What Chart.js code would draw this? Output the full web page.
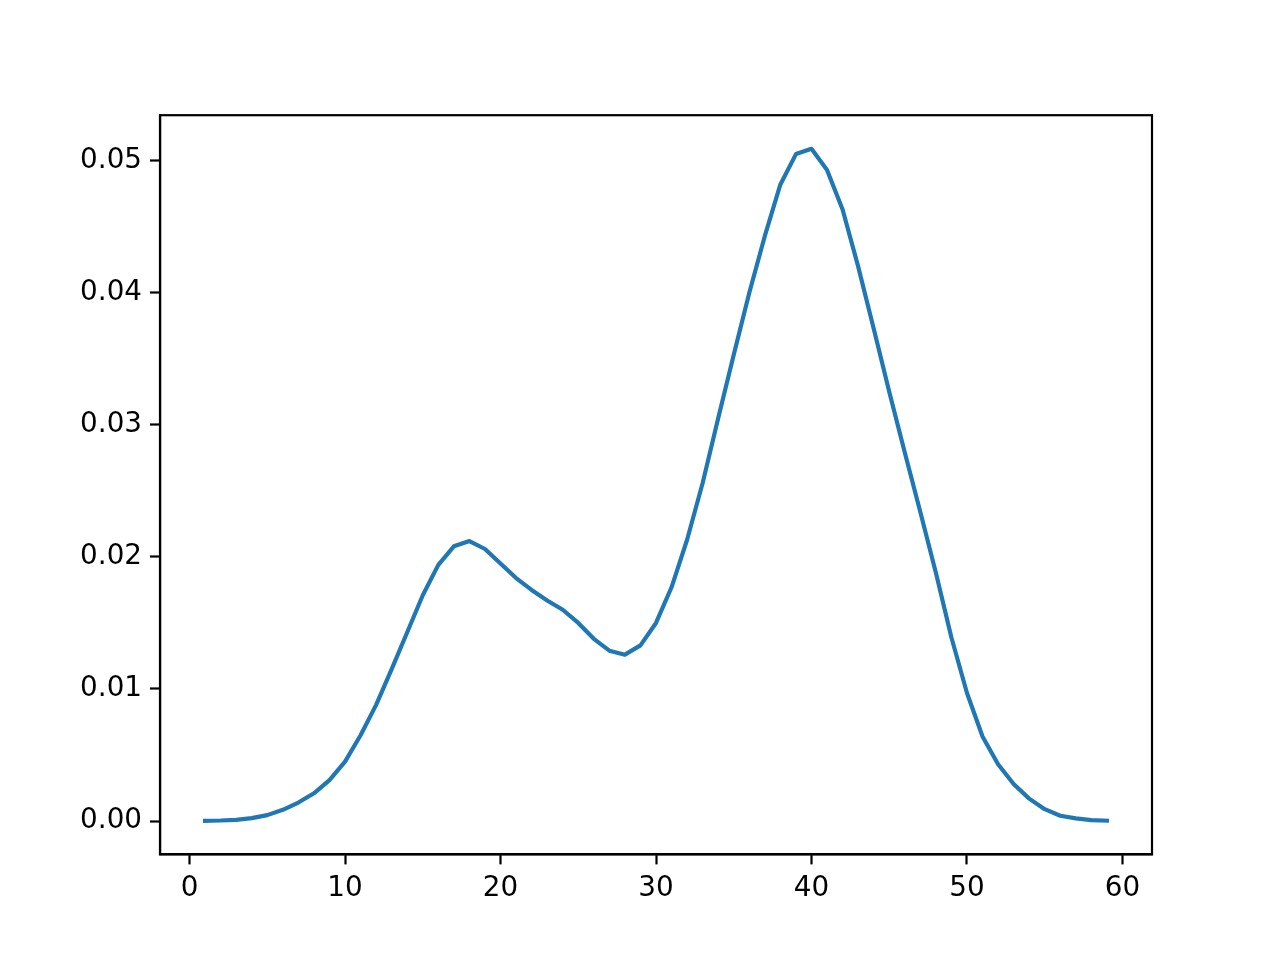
<!DOCTYPE html>
<html>
<head>
<meta charset="utf-8">
<script src="https://cdn.jsdelivr.net/npm/chart.js@4.4.1/dist/chart.umd.min.js"></script>
<style>
  html, body { margin: 0; padding: 0; background: #fff; }
  #wrap { width: 1280px; height: 960px; }
</style>
</head>
<body>
<div id="wrap"><canvas id="chart" width="1280" height="960"></canvas></div>
<script>
/* --- DATA --- */
const xs = [1, 2, 3, 4, 5, 6, 7, 8, 9, 10, 11, 12, 13, 14, 15, 16, 17, 18, 19, 20,
    21, 22, 23, 24, 25, 26, 27, 28, 29, 30, 31, 32, 33, 34, 35, 36, 37, 38, 39, 40,
    41, 42, 43, 44, 45, 46, 47, 48, 49, 50, 51, 52, 53, 54, 55, 56, 57, 58, 59];
const ys = [0.00002, 0.00004, 0.00009, 0.00022, 0.00045, 0.00085, 0.0014, 0.0021, 0.0031, 0.0045,
    0.0065, 0.0088, 0.0115, 0.0143, 0.0171, 0.0194, 0.0208, 0.0212, 0.0206, 0.0195,
    0.0184, 0.0175, 0.0167, 0.0160, 0.0150, 0.0138, 0.0129, 0.0126, 0.0133, 0.0150,
    0.0177, 0.0213, 0.0256, 0.0305, 0.0353, 0.0400, 0.0443, 0.0482, 0.0505, 0.0509,
    0.0493, 0.0463, 0.0420, 0.0373, 0.0325, 0.0279, 0.0234, 0.0188, 0.0139, 0.0097,
    0.0064, 0.0043, 0.0028, 0.0017, 0.0009, 0.0004, 0.0002, 0.00007, 0.00003];
const xTicks = [0, 10, 20, 30, 40, 50, 60];
const yTicks = [0, 0.01, 0.02, 0.03, 0.04, 0.05];

/* --- STYLE --- */
const lineColor = '#1f77b4';
const fontFamily = "'DejaVu Sans', sans-serif";
const fontSize = 27.8;

// matplotlib-like 5% margins around the data
const xSpan = Math.max(...xs) - Math.min(...xs);
const ySpan = Math.max(...ys) - Math.min(...ys);
const xMin = Math.min(...xs) - 0.05 * xSpan, xMax = Math.max(...xs) + 0.05 * xSpan;
const yMin = Math.min(...ys) - 0.05 * ySpan, yMax = Math.max(...ys) + 0.05 * ySpan;

// box around plot area (top/right spines)
const frame = {
    id: 'frame',
    afterDraw(chart) {
        const { ctx, chartArea: a } = chart;
        ctx.save();
        ctx.strokeStyle = '#000';
        ctx.lineWidth = 2.2;
        ctx.strokeRect(a.left, a.top, a.right - a.left, a.bottom - a.top);
        ctx.restore();
    }
};

const axisCommon = {
    type: 'linear',
    grid: { display: true, drawOnChartArea: false, drawTicks: true, tickLength: 10, tickWidth: 2.2, tickColor: '#000' },
    border: { display: true, color: '#000', width: 2.2 },
};

new Chart(document.getElementById('chart').getContext('2d'), {
    type: 'line',
    data: {
        datasets: [{
            data: xs.map((x, i) => ({ x: x, y: ys[i] })),
            borderColor: lineColor,
            borderWidth: 4.17,
            borderCapStyle: 'square',
            borderJoinStyle: 'round',
            pointRadius: 0,
            tension: 0,
            fill: false
        }]
    },
    options: {
        responsive: false,
        animation: false,
        devicePixelRatio: 1,
        layout: { padding: { left: 60, right: 128, top: 115.2, bottom: 45.6 } },
        plugins: { legend: { display: false }, tooltip: { enabled: false } },
        scales: {
            x: {
                ...axisCommon,
                min: xMin, max: xMax,
                afterBuildTicks: s => { s.ticks = xTicks.map(v => ({ value: v })); },
                afterFit: s => { s.height = 60; },
                ticks: { color: '#000', padding: 8, maxRotation: 0, font: { family: fontFamily, size: fontSize },
                    callback: v => String(v) }
            },
            y: {
                ...axisCommon,
                min: yMin, max: yMax,
                afterBuildTicks: s => { s.ticks = yTicks.map(v => ({ value: v })); },
                afterFit: s => { s.width = 100; },
                ticks: { color: '#000', padding: 8, font: { family: fontFamily, size: fontSize },
                    callback: v => v.toFixed(2) }
            }
        }
    },
    plugins: [frame]
});
</script>
</body>
</html>
